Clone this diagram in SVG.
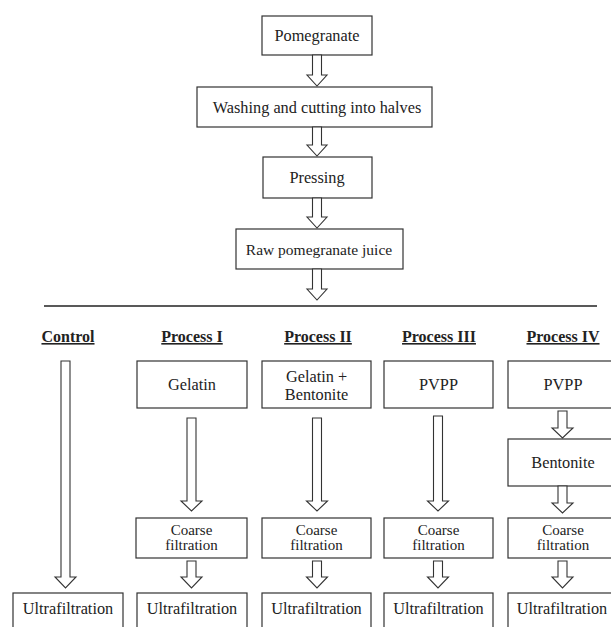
<svg xmlns="http://www.w3.org/2000/svg" width="611" height="627" viewBox="0 0 611 627" font-family="Liberation Serif, serif">
<style>
.box{fill:#fff;stroke:#333;stroke-width:1.2}
.arr{fill:#fff;stroke:#333;stroke-width:1.1;stroke-linejoin:miter}
.t{font-size:16.3px;fill:#222;text-anchor:middle}
.s{font-size:15px;fill:#222;text-anchor:middle}
.h{font-size:16px;font-weight:bold;fill:#222;text-anchor:middle;text-decoration:underline}
</style>
<rect width="611" height="627" fill="#fff"/>
<g id="n-pomegranate"><rect class="box" x="262" y="16" width="110" height="39"/><text class="t" x="317" y="41">Pomegranate</text></g>
<g id="n-washing"><rect class="box" x="197" y="87" width="235" height="40"/><text class="t" x="317" y="112.5">Washing and cutting into halves</text></g>
<g id="n-pressing"><rect class="box" x="263" y="157" width="109" height="41"/><text class="t" x="317" y="183">Pressing</text></g>
<g id="n-raw"><rect class="box" x="236" y="229" width="167" height="40"/><text class="t" x="319" y="254.5" style="font-size:15.5px">Raw pomegranate juice</text></g>
<g id="divider"><line x1="44" y1="306" x2="597" y2="306" stroke="#222" stroke-width="1.6"/></g>
<g id="headers">
<text class="h" x="68" y="342">Control</text>
<text class="h" x="192" y="342">Process I</text>
<text class="h" x="318" y="342">Process II</text>
<text class="h" x="439" y="342">Process III</text>
<text class="h" x="563" y="342">Process IV</text>
</g>
<g id="n-gelatin"><rect class="box" x="137" y="361" width="110" height="47"/><text class="t" x="192" y="390">Gelatin</text></g>
<g id="n-gelbent"><rect class="box" x="262" y="361" width="109" height="47"/><text class="t" x="316.5" y="382">Gelatin +</text><text class="t" x="316.5" y="399.5">Bentonite</text></g>
<g id="n-pvpp3"><rect class="box" x="384" y="361" width="109" height="47"/><text class="t" x="438.5" y="390">PVPP</text></g>
<g id="n-pvpp4"><rect class="box" x="508" y="361" width="110" height="47"/><text class="t" x="563" y="390">PVPP</text></g>
<g id="n-bentonite"><rect class="box" x="508" y="439" width="110" height="47"/><text class="t" x="563" y="468">Bentonite</text></g>
<g id="n-coarse1"><rect class="box" x="136" y="518" width="111" height="40"/><text class="s" x="191.5" y="534.5">Coarse</text><text class="s" x="191.5" y="550">filtration</text></g>
<g id="n-coarse2"><rect class="box" x="262" y="518" width="109" height="40"/><text class="s" x="316.5" y="534.5">Coarse</text><text class="s" x="316.5" y="550">filtration</text></g>
<g id="n-coarse3"><rect class="box" x="384" y="518" width="109" height="40"/><text class="s" x="438.5" y="534.5">Coarse</text><text class="s" x="438.5" y="550">filtration</text></g>
<g id="n-coarse4"><rect class="box" x="508" y="518" width="110" height="40"/><text class="s" x="563" y="534.5">Coarse</text><text class="s" x="563" y="550">filtration</text></g>
<g id="n-ultra0"><rect class="box" x="13" y="593" width="110" height="45"/><text class="t" x="68" y="614">Ultrafiltration</text></g>
<g id="n-ultra1"><rect class="box" x="137" y="593" width="110" height="45"/><text class="t" x="192" y="614">Ultrafiltration</text></g>
<g id="n-ultra2"><rect class="box" x="262" y="593" width="109" height="45"/><text class="t" x="316.5" y="614">Ultrafiltration</text></g>
<g id="n-ultra3"><rect class="box" x="384" y="593" width="109" height="45"/><text class="t" x="438.5" y="614">Ultrafiltration</text></g>
<g id="n-ultra4"><rect class="box" x="508" y="593" width="110" height="45"/><text class="t" x="562" y="614">Ultrafiltration</text></g>
<g id="connectors">
<polygon class="arr" points="312.5,55 321.5,55 321.5,75 327,75 317,86 307,75 312.5,75"/>
<polygon class="arr" points="312.5,127 321.5,127 321.5,145 327,145 317,156 307,145 312.5,145"/>
<polygon class="arr" points="312.5,198 321.5,198 321.5,217 327,217 317,228 307,217 312.5,217"/>
<polygon class="arr" points="312.5,269 321.5,269 321.5,289 327,289 317,300 307,289 312.5,289"/>
<polygon class="arr" points="61,361 70,361 70,577 76,577 65.5,588 55,577 61,577"/>
<polygon class="arr" points="187,418 196,418 196,501 202,501 191.5,511 181,501 187,501"/>
<polygon class="arr" points="312.5,418 321.5,418 321.5,501 327.5,501 317,511 306.5,501 312.5,501"/>
<polygon class="arr" points="433.5,416 442.5,416 442.5,501 448.5,501 438,511 427.5,501 433.5,501"/>
<polygon class="arr" points="558,411 567,411 567,428 573,428 562.5,438 552,428 558,428"/>
<polygon class="arr" points="558,486 567,486 567,503 573,503 562.5,513 552,503 558,503"/>
<polygon class="arr" points="187,561 196,561 196,577 202,577 191.5,588 181,577 187,577"/>
<polygon class="arr" points="312.5,561 321.5,561 321.5,577 327.5,577 317,588 306.5,577 312.5,577"/>
<polygon class="arr" points="433.5,561 442.5,561 442.5,577 448.5,577 438,588 427.5,577 433.5,577"/>
<polygon class="arr" points="558,561 567,561 567,577 573,577 562.5,588 552,577 558,577"/>
</g>
</svg>
